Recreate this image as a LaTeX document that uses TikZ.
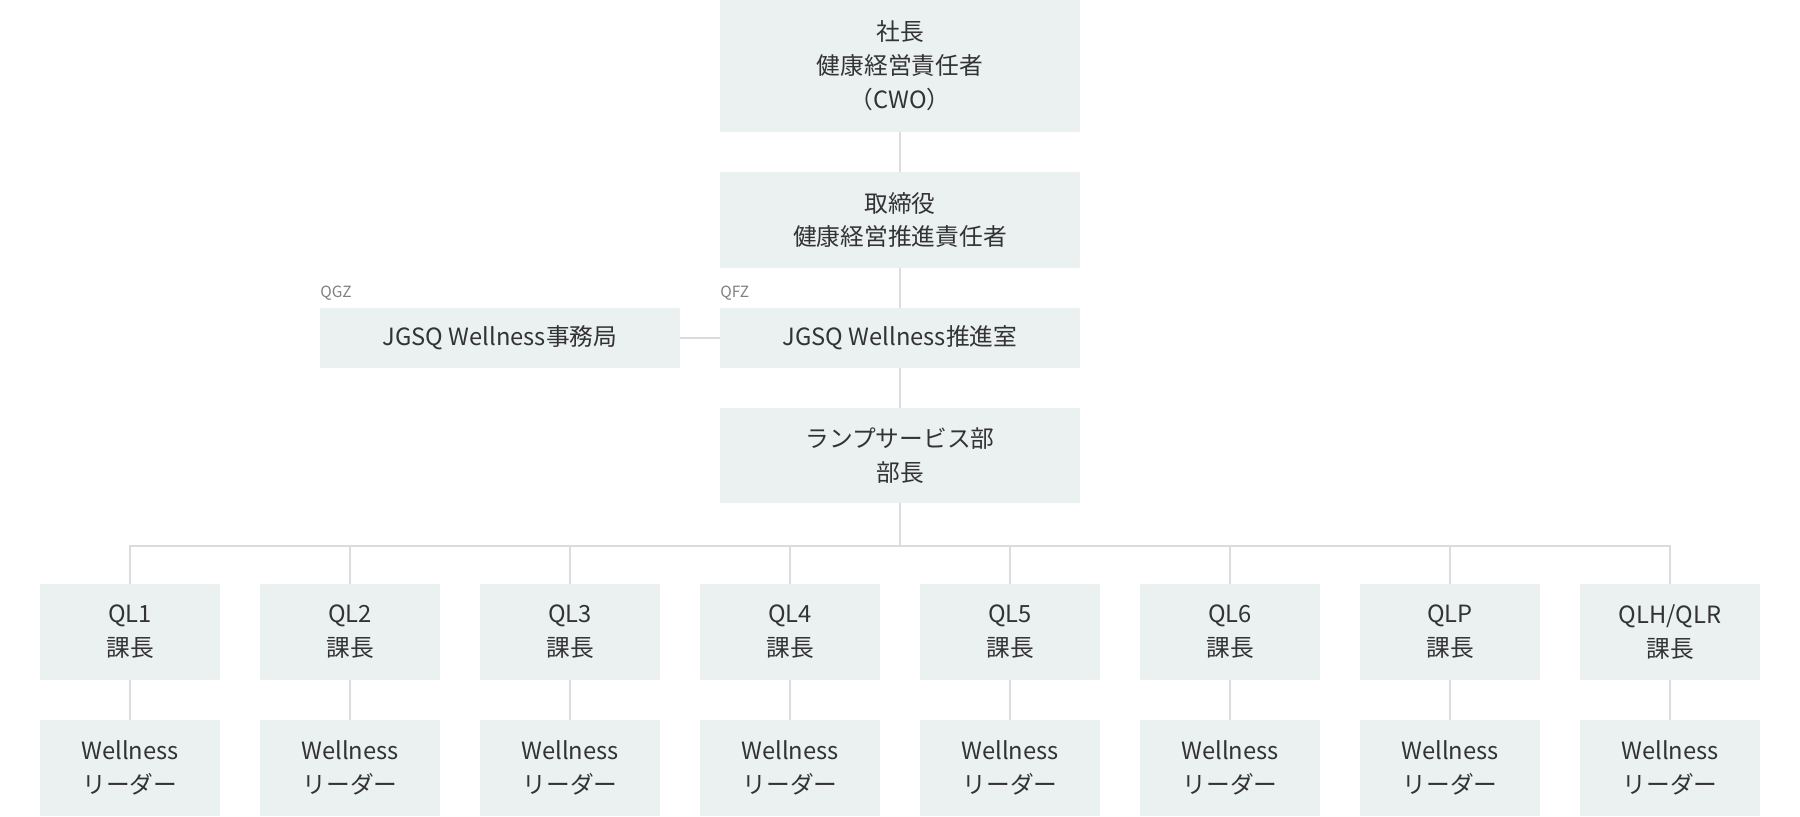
\documentclass[tikz,border=0pt]{standalone}
\usepackage{fontspec}
\setmainfont{Noto Sans CJK JP}
\usetikzlibrary{positioning,calc}
\definecolor{boxfill}{HTML}{EBF0F0}
\definecolor{linegray}{HTML}{DCDCDC}
\definecolor{textgray}{HTML}{333333}
\definecolor{taggray}{HTML}{808080}

\begin{document}
\begin{tikzpicture}[x=0.02cm,y=-0.02cm,
  every node/.style={font=\fontsize{13.5}{19.3}\selectfont,text=textgray},
  orgbox/.style={fill=boxfill,inner sep=0pt,align=center,minimum width=7.2cm},
  unitbox/.style={fill=boxfill,inner sep=0pt,align=center,minimum width=3.6cm,minimum height=1.92cm},
  tag/.style={font=\fontsize{8.8}{10}\selectfont,text=taggray,anchor=west,inner sep=0pt},
  link/.style={draw=linegray,line width=1.1pt}]
\useasboundingbox (0,0) rectangle (1800,816);
\node[orgbox,minimum height=2.64cm] (ceo) at (900,66) {社長\\健康経営責任者\\（CWO）};
\node[orgbox,minimum height=1.92cm] (dir) at (900,220) {取締役\\健康経営推進責任者};
\node[orgbox,minimum height=1.2cm] (office) at (900,338) {JGSQ Wellness推進室};
\node[orgbox,minimum height=1.2cm] (secr) at (500,338) {JGSQ Wellness事務局};
\node[orgbox,minimum height=1.9cm] (dept) at (900,455.5) {ランプサービス部\\部長};
\node[tag] (qgz) at (320,293.5) {QGZ};
\node[tag] (qfz) at (720,293.5) {QFZ};
\foreach \name [count=\i] in {QL1,QL2,QL3,QL4,QL5,QL6,QLP,QLH/QLR} {
  \node[unitbox] (mgr\i) at ({130+220*(\i-1)},632) {\name\\課長};
  \node[unitbox] (ldr\i) at ({130+220*(\i-1)},768) {Wellness\\リーダー};
  \draw[link] (mgr\i) -- (ldr\i);
}
\coordinate (bus) at (900,546);
\draw[link] (ceo) -- (dir); \draw[link] (dir) -- (office); \draw[link] (office) -- (dept);
\draw[link] (secr) -- (office);
\draw[link] (dept) -- (bus);
\draw[link] (mgr1.north) |- (bus) -| (mgr8.north);
\foreach \i in {2,...,7} { \draw[link] (mgr\i.north) -- (mgr\i.north |- bus); }
\end{tikzpicture}
\end{document}
